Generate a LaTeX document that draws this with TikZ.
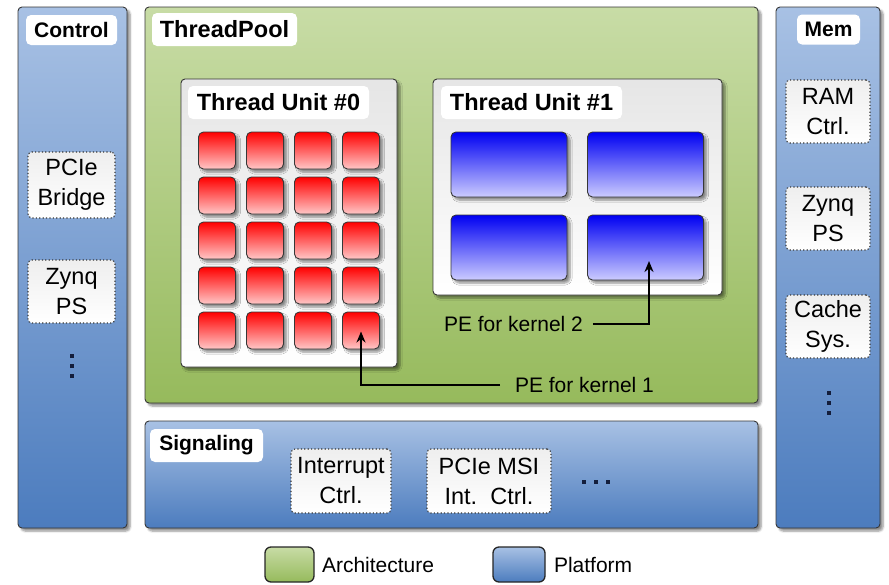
\documentclass[tikz,border=0pt]{standalone}
\usepackage{fontspec}
\setmainfont{Liberation Sans}
\usetikzlibrary{shadows.blur, arrows.meta, calc}

\definecolor{bluetop}{RGB}{168,193,228}
\definecolor{bluebot}{RGB}{76,124,190}
\definecolor{greentop}{RGB}{200,220,166}
\definecolor{greenbot}{RGB}{150,186,92}
\definecolor{edge}{RGB}{55,55,55}
\definecolor{dotcol}{RGB}{20,30,60}

\begin{document}
\begin{tikzpicture}[x=1pt,y=-1pt,
  every node/.style={inner sep=0pt, outer sep=0pt},
  txt/.style={font=\fontsize{23.5}{30}\selectfont, align=center},
  shad/.style={blur shadow={shadow xshift=3pt, shadow yshift=-3pt, shadow blur steps=6, shadow opacity=45}},
  platform/.style={draw=edge, line width=0.9pt, rounded corners=4pt, top color=bluetop, bottom color=bluebot, shad},
  arch/.style={draw=edge, line width=0.9pt, rounded corners=4pt, top color=greentop, bottom color=greenbot, shad},
  title/.style={fill=white, rounded corners=5pt, font=\fontsize{23.5}{28}\bfseries\selectfont},
  smalltitle/.style={title, font=\fontsize{21}{25}\bfseries\selectfont},
  unit/.style={draw=edge, line width=0.9pt, rounded corners=4pt, top color=gray!20, bottom color=white, shad},
  redpe/.style={draw=edge, line width=0.9pt, rounded corners=5pt, top color=red, bottom color=red!22, minimum width=37pt, minimum height=37pt, shad},
  bluepe/.style={draw=edge, line width=0.9pt, rounded corners=5pt, top color=blue!95!black, bottom color=blue!20, minimum width=116pt, minimum height=65pt, shad},
  block/.style={draw=edge, line width=1.1pt, dash pattern=on 1.2pt off 2.2pt, rounded corners=4pt, top color=gray!13, bottom color=white, txt},
  legbox/.style={draw=black!85, line width=1.3pt, rounded corners=6pt, minimum width=#1, minimum height=35pt},
  note/.style={font=\fontsize{21}{25}\selectfont},
  dot/.style={rectangle, fill=dotcol, minimum size=3.4pt},
  arr/.style={line width=2.4pt, -{Stealth[length=11pt, width=9pt]}},
]
\useasboundingbox (0,0) rectangle (889,584);

% Control column
\node[platform, minimum width=109pt, minimum height=521pt] (control) at (72.5,267.5) {};
\node[smalltitle, minimum width=91pt, minimum height=30pt] (controlT) at (71.5,30) {Control};
\node[block, minimum width=87pt, minimum height=66pt] (pcie) at (71.5,185) {PCIe\\Bridge};
\node[block, minimum width=87pt, minimum height=63pt] (zynqA) at (71.5,291.5) {Zynq\\PS};
\foreach \i/\y in {1/356,2/366,3/376} \node[dot] (cdot\i) at (72,\y) {};

% Memory column
\node[platform, minimum width=104pt, minimum height=521pt] (mem) at (828,267.5) {};
\node[smalltitle, minimum width=63pt, minimum height=30pt] (memT) at (828.5,29.5) {Mem};
\node[block, minimum width=84pt, minimum height=63pt] (ram) at (828,111.5) {RAM\\Ctrl.};
\node[block, minimum width=84pt, minimum height=63pt] (zynqB) at (828,218.5) {Zynq\\PS};
\node[block, minimum width=84pt, minimum height=63pt] (cache) at (828,326.5) {Cache\\Sys.};
\foreach \i/\y in {1/393,2/403,3/413} \node[dot] (mdot\i) at (829,\y) {};

% ThreadPool
\node[arch, minimum width=613pt, minimum height=396pt] (pool) at (451.5,205) {};
\node[title, minimum width=145pt, minimum height=33pt] (poolT) at (224.5,29.5) {ThreadPool};

% Thread Unit #0 with a 4x5 grid of PEs
\node[unit, minimum width=216pt, minimum height=288pt] (tu0) at (289,223) {};
\node[title, minimum width=181pt, minimum height=33pt] (tu0T) at (278.5,102.5) {Thread Unit \#0};
\foreach \c/\x in {1/217,2/265,3/313,4/361}
  \foreach \r/\y in {1/150.5,2/195.5,3/240.5,4/285.5,5/330.5}
    \node[redpe] (pe-\c-\r) at (\x,\y) {};

% Thread Unit #1 with a 2x2 grid of PEs
\node[unit, minimum width=289pt, minimum height=216pt] (tu1) at (577.5,187) {};
\node[title, minimum width=181pt, minimum height=33pt] (tu1T) at (531.5,102.5) {Thread Unit \#1};
\foreach \c/\x in {1/509,2/645.5}
  \foreach \r/\y in {1/164.5,2/247.5}
    \node[bluepe] (bpe-\c-\r) at (\x,\y) {};

% Callouts
\node[note, anchor=west] (k1) at (515,385) {PE for kernel 1};
\node[note, anchor=west] (k2) at (444,324) {PE for kernel 2};
\draw[arr] ([xshift=-15pt]k1.west) -| ([yshift=-1pt]pe-4-5.center);
\draw[arr] ([xshift=10pt]k2.east) -| ([xshift=3.5pt,yshift=-13.5pt]bpe-2-2.center);

% Signaling
\node[platform, minimum width=613pt, minimum height=107pt] (sig) at (451.5,474.5) {};
\node[smalltitle, minimum width=113pt, minimum height=33pt] (sigT) at (206.5,445.5) {Signaling};
\node[block, minimum width=100pt, minimum height=64pt] (irq) at (341,481) {Interrupt\\Ctrl.};
\node[block, minimum width=124pt, minimum height=64pt] (msi) at (489,481) {PCIe MSI\\Int.\ \ Ctrl.};
\foreach \i/\x in {1/584,2/596,3/608} \node[dot] (sdot\i) at (\x,482) {};

% Legend
\node[legbox=49pt, top color=greentop, bottom color=greenbot] (legA) at (289.5,564.5) {};
\node[note, anchor=west] (legAT) at (322,565) {Architecture};
\node[legbox=52pt, top color=bluetop, bottom color=bluebot] (legP) at (519,564.5) {};
\node[note, anchor=west] (legPT) at (554,565) {Platform};
\end{tikzpicture}
\end{document}
